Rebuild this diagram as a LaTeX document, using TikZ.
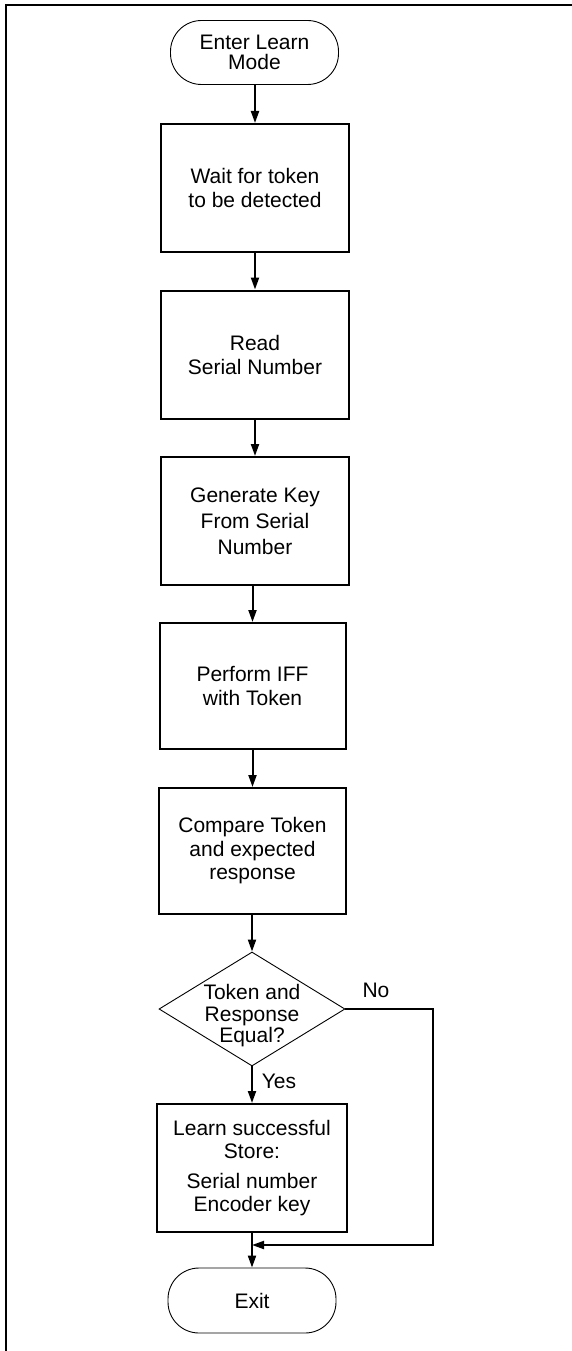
\documentclass[tikz,border=0pt]{standalone}
\usepackage{fontspec}
\setmainfont{Liberation Sans}
\usetikzlibrary{arrows.meta,shapes.geometric}
\begin{document}
\begin{tikzpicture}[x=1pt,y=-1pt,
  proc/.style={draw,line width=2pt,minimum width=188pt,minimum height=128pt,inner sep=0pt,align=center,font=\fontsize{21}{24}\selectfont},
  term/.style={draw,line width=0.9pt,rounded corners=31pt,minimum width=168pt,minimum height=64pt,inner sep=0pt,align=center,font=\fontsize{21}{20}\selectfont},
  dec/.style={draw,diamond,line width=0.9pt,minimum width=186pt,minimum height=114pt,inner sep=0pt},
  dectext/.style={inner sep=0pt,align=center,font=\fontsize{21}{21.5}\selectfont},
  arr/.style={line width=2pt,-{Triangle[length=12pt,width=8pt]}},
  plain/.style={line width=2pt},
  lbl/.style={font=\fontsize{21}{24}\selectfont,inner sep=0pt}]
\useasboundingbox (0,0) rectangle (571,1351);
\draw[line width=2.2pt] (572,5) -- (6,5) -- (6,1352);

\node[term] (start) at (254.5,52.5) {Enter Learn\\Mode};
\node[proc] (box1) at (255,188) {Wait for token\\to be detected};
\node[proc] (box2) at (255,354.5) {Read\\Serial Number};
\node[proc,font=\fontsize{21}{26}\selectfont] (box3) at (255,521) {Generate Key\\From Serial\\Number};
\node[proc,minimum width=186pt,minimum height=126pt] (box4) at (252.5,686) {Perform IFF\\with Token};
\node[proc,minimum width=187pt,minimum height=126pt,font=\fontsize{21}{23.5}\selectfont] (box5) at (252.5,851) {Compare Token\\and expected\\response};
\node[dec] (dec) at (252,1009) {};
\node[dectext] (dect) at (252,1016) {Token and\\Response\\Equal?};
\node[proc,minimum width=190pt,font=\fontsize{21}{22.5}\selectfont] (box6) at (252,1168) {Learn successful\\Store:\\[8pt]Serial number\\Encoder key};
\node[term,minimum height=65pt] (exit) at (252,1300.5) {Exit};

\node[lbl] (no) at (376,990) {No};
\node[lbl] (yes) at (279,1081) {Yes};

\coordinate (c1) at (433,1009);
\coordinate (c2) at (433,1245);
\coordinate (m) at (252,1245);

\draw[arr] (start.south -| box1.north) -- (box1.north);
\draw[arr] (box1.south) -- (box2.north);
\draw[arr] (box2.south) -- (box3.north);
\draw[arr] (box4.north |- box3.south) -- (box4.north);
\draw[arr] (box4.south) -- (box5.north);
\draw[arr] (dec.north |- box5.south) -- (dec.north);
\draw[arr] (dec.south) -- (dec.south |- box6.north);
\draw[arr] (box6.south) -- (exit.north);
\draw[arr] (dec.east) -- (c1) -- (c2) -- (m);
\end{tikzpicture}
\end{document}
